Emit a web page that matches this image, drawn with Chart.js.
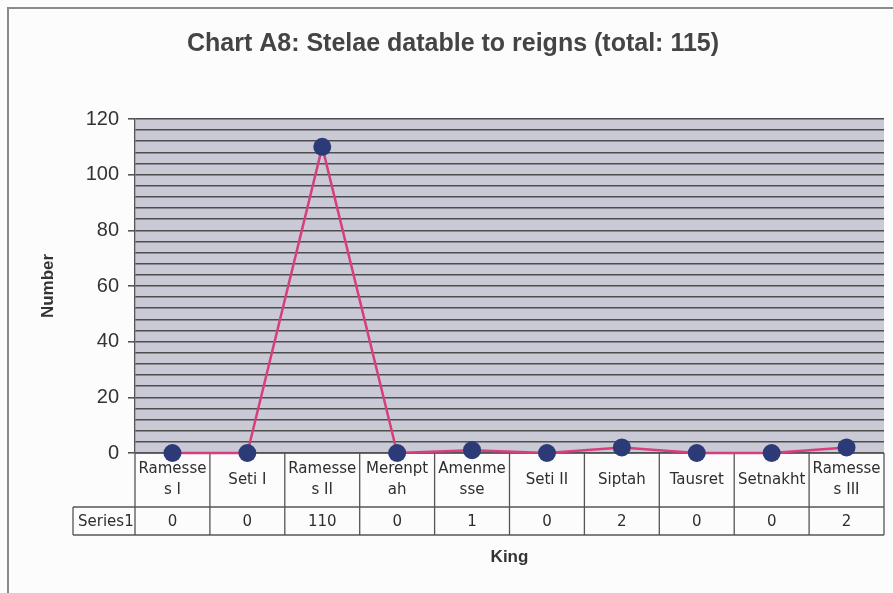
<!DOCTYPE html>
<html lang="en">
<head>
<meta charset="UTF-8">
<title>Chart A8</title>
<script src="https://cdn.jsdelivr.net/npm/chart.js"></script>
<style>
  html, body { margin: 0; padding: 0; background: #fcfcfc; }
  #wrap { position: relative; width: 893px; height: 593px; overflow: hidden; }
  #frame { position: absolute; left: 7px; top: 7px; width: 900px; height: 600px; border-left: 2px solid #8a8a8a; border-top: 2px solid #8a8a8a; }
  canvas { position: absolute; left: 0; top: 0; }
</style>
</head>
<body>
<div id="wrap">
  <div id="frame"></div>
  <canvas id="myChart" width="893" height="593"></canvas>
</div>
<script>
    // data
    const kings = ['Ramesses I', 'Seti I', 'Ramesses II', 'Merenptah', 'Amenmesse',
                   'Seti II', 'Siptah', 'Tausret', 'Setnakht', 'Ramesses III'];
    // labels as they wrap in the table cells
    const kingLabels = [['Ramesse', 's I'], ['Seti I'], ['Ramesse', 's II'], ['Merenpt', 'ah'],
                        ['Amenme', 'sse'], ['Seti II'], ['Siptah'], ['Tausret'], ['Setnakht'],
                        ['Ramesse', 's III']];
    const stelae = [0, 0, 110, 0, 1, 0, 2, 0, 0, 2];
    const seriesName = 'Series1';
    const yMax = 120;
    const gridStep = 4;
    const labelStep = 20;

    const plotBg = {
        id: 'plotBg',
        beforeDraw(chart) {
            const { ctx, chartArea: a } = chart;
            ctx.save();
            ctx.fillStyle = '#cacad7';
            ctx.fillRect(a.left, a.top, a.right - a.left, a.bottom - a.top);
            ctx.restore();
        }
    };

    // data table under the plot, Excel style
    const dataTable = {
        id: 'dataTable',
        beforeDatasetsDraw(chart) {
            const { ctx, chartArea: a } = chart;
            const xs = chart.scales.x;
            const band = (a.right - a.left) / kings.length;
            const row1 = a.bottom + 54;
            const row2 = a.bottom + 82;
            const headLeft = 73;

            ctx.save();
            ctx.strokeStyle = '#555';
            ctx.lineWidth = 1.3;
            ctx.beginPath();
            ctx.moveTo(a.left, a.bottom); ctx.lineTo(a.right, a.bottom);
            ctx.moveTo(headLeft, row1); ctx.lineTo(a.right, row1);
            ctx.moveTo(headLeft, row2); ctx.lineTo(a.right, row2);
            ctx.moveTo(headLeft, row1); ctx.lineTo(headLeft, row2);
            for (let i = 0; i <= kings.length; i++) {
                const bx = (i < kings.length ? xs.getPixelForValue(i) - band / 2 : xs.getPixelForValue(i - 1) + band / 2);
                ctx.moveTo(bx, a.bottom); ctx.lineTo(bx, row2);
            }
            ctx.stroke();

            ctx.fillStyle = '#2e2e2e';
            ctx.font = '15px "DejaVu Sans"';
            ctx.textAlign = 'center';
            ctx.textBaseline = 'middle';
            const lineH = 21;
            const mid1 = (a.bottom + row1) / 2;
            const mid2 = (row1 + row2) / 2;
            kingLabels.forEach((lines, i) => {
                const cx = xs.getPixelForValue(i);
                const y0 = mid1 - (lines.length - 1) * lineH / 2;
                lines.forEach((t, j) => ctx.fillText(t, cx, y0 + j * lineH));
                ctx.fillText(String(stelae[i]), cx, mid2 + 1);
            });
            ctx.textAlign = 'left';
            ctx.fillText(seriesName, headLeft + 5, mid2 + 1);
            ctx.restore();
        }
    };

    const ctx = document.getElementById('myChart').getContext('2d');
    const myChart = new Chart(ctx, {
        type: 'line',
        data: {
            labels: kings,
            datasets: [{
                label: seriesName,
                data: stelae,
                borderColor: '#d63f7c',
                borderWidth: 2.5,
                pointRadius: 9,
                pointBackgroundColor: '#2c3a78',
                pointBorderWidth: 0,
                tension: 0,
                clip: false
            }]
        },
        options: {
            responsive: false,
            animation: false,
            layout: { padding: { left: 18, right: 5, top: 0, bottom: 0 } },
            scales: {
                x: {
                    offset: true,
                    ticks: { display: false },
                    grid: { display: false },
                    border: { display: false },
                    title: {
                        display: true,
                        text: 'King',
                        color: '#333',
                        font: { family: '"Liberation Sans", Arial', size: 17, weight: 'bold' },
                        padding: { top: 0, bottom: 25 }
                    },
                    afterFit(scale) { scale.height = 140; }
                },
                y: {
                    min: 0,
                    max: yMax,
                    ticks: {
                        stepSize: gridStep,
                        autoSkip: false,
                        maxTicksLimit: 100,
                        padding: 9,
                        color: '#333',
                        font: { family: '"Liberation Sans", Arial', size: 20 },
                        callback: v => (v % labelStep === 0 ? v : '')
                    },
                    grid: {
                        color: '#4d4d4d',
                        lineWidth: 1.6,
                        tickLength: 7,
                        tickColor: c => (c.tick && c.tick.value % labelStep === 0 ? '#555' : 'rgba(0,0,0,0)')
                    },
                    border: { color: '#555', width: 1.3 },
                    title: {
                        display: true,
                        text: 'Number',
                        color: '#333',
                        font: { family: '"Liberation Sans", Arial', size: 17, weight: 'bold' },
                        padding: { top: 20, bottom: 0 }
                    },
                    afterFit(scale) { scale.width = 117; }
                }
            },
            plugins: {
                legend: { display: false },
                tooltip: { enabled: false },
                title: {
                    display: true,
                    text: 'Chart A8: Stelae datable to reigns (total: 115)',
                    color: '#444',
                    font: { family: '"Liberation Sans", Arial', size: 25, weight: 'bold' },
                    padding: { top: 29, bottom: 60 }
                }
            }
        },
        plugins: [plotBg, dataTable]
    });
</script>
</body>
</html>
